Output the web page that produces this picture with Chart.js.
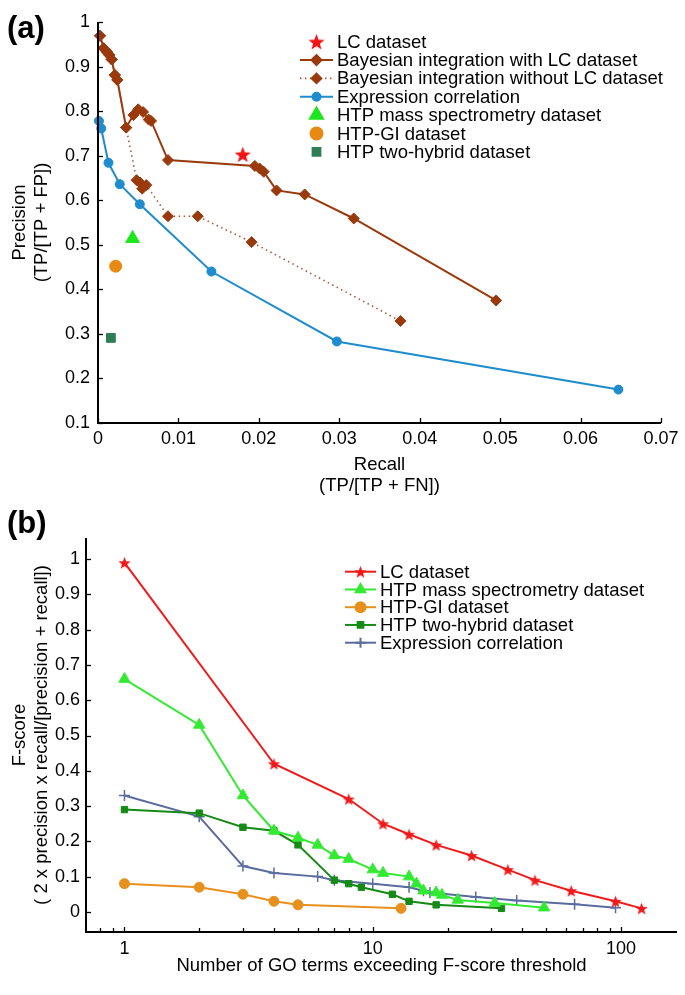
<!DOCTYPE html>
<html><head><meta charset="utf-8">
<script src="https://cdn.jsdelivr.net/npm/chart.js@4/dist/chart.umd.min.js"></script>
<style>
html,body{margin:0;padding:0;background:#fff;}
body{width:685px;height:995px;overflow:hidden;position:relative;font-family:"Liberation Sans",Arial,sans-serif;}
.lbl{position:absolute;font-weight:bold;font-size:31px;left:7px;line-height:1;}
#wa{position:absolute;left:0;top:0;width:685px;height:500px}
#wb{position:absolute;left:0;top:500px;width:685px;height:495px}
</style></head><body>
<div id="wa"><canvas id="ca" width="685" height="500"></canvas></div>
<div id="wb"><canvas id="cb" width="685" height="495"></canvas></div>
<div class="lbl" style="top:12px">(a)</div>
<div class="lbl" style="top:507px">(b)</div>
<script>
// ---------- Panel (a): precision vs recall ----------
const bayesWithRecall    = [0.00025,0.0007,0.0011,0.0014,0.0017,0.0021,0.0024,0.0035,0.0044,0.0050,0.0056,0.0063,0.0066,0.0087,0.0195,0.0201,0.0206,0.0222,0.0257,0.0318,0.0495];
const bayesWithPrecision = [0.969,0.941,0.933,0.926,0.916,0.881,0.870,0.763,0.791,0.804,0.798,0.781,0.778,0.690,0.677,0.671,0.664,0.622,0.613,0.559,0.375];
const bayesWithoutRecall    = [0.00025,0.0007,0.0011,0.0014,0.0017,0.0021,0.0024,0.0035,0.0048,0.0052,0.0055,0.0060,0.0087,0.0124,0.0191,0.0376];
const bayesWithoutPrecision = [0.969,0.941,0.933,0.926,0.916,0.881,0.870,0.763,0.645,0.640,0.626,0.634,0.564,0.564,0.506,0.329];
const exprRecall    = [0.00012,0.0004,0.0013,0.0027,0.0052,0.0141,0.0297,0.0647];
const exprPrecision = [0.778,0.761,0.684,0.636,0.591,0.440,0.283,0.175];
const lcPoint     = [0.0180, 0.703];
const massPoint   = [0.0043, 0.514];
const giPoint     = [0.0022, 0.452];
const y2hPoint    = [0.0016, 0.291];
const recallTicks    = [0,0.01,0.02,0.03,0.04,0.05,0.06,0.07];
const precisionTicks = [0.1,0.2,0.3,0.4,0.5,0.6,0.7,0.8,0.9,1];

// ---------- Panel (b): F-score vs number of GO terms ----------
const lcGo   = [1,4,8,11,14,18,25,35,45,63,95,121];
const lcF    = [0.99,0.42,0.32,0.25,0.22,0.19,0.16,0.12,0.09,0.06,0.03,0.01];
const massGo = [1,2,3,4,5,6,7,8,10,11,14,15,16,18,19,22,31,49];
const massF  = [0.66,0.53,0.33,0.23,0.21,0.19,0.16,0.15,0.12,0.11,0.10,0.08,0.06,0.055,0.048,0.034,0.025,0.012];
const giGo   = [1,2,3,4,5,13];
const giF    = [0.08,0.07,0.05,0.03,0.02,0.01];
const y2hGo  = [1,2,3,4,5,7,8,9,12,14,18,33];
const y2hF   = [0.29,0.28,0.24,0.23,0.19,0.09,0.08,0.07,0.05,0.03,0.02,0.01];
const exprGo = [1,2,3,4,6,7,10,14,16,17,26,38,65,95];
const exprF  = [0.33,0.27,0.13,0.11,0.10,0.09,0.08,0.07,0.06,0.055,0.042,0.032,0.022,0.012];
const fTicks = [0,0.1,0.2,0.3,0.4,0.5,0.6,0.7,0.8,0.9,1];
const goMajorTicks = [1,10,100];
const goMinorTicks = [0.8,0.9,2,3,4,5,6,7,8,9,20,30,40,50,60,70,80,90];

// ---------- helpers ----------
function pts(xs, ys){ return xs.map((x,i)=>({x:x, y:ys[i]})); }
function starCanvas(size, color){
  const c=document.createElement('canvas'); c.width=c.height=size;
  const g=c.getContext('2d'); g.fillStyle=color; g.beginPath();
  const cx=size/2, cy=size/2+size*0.05, R=size/2, r=R*0.42;
  for(let k=0;k<10;k++){ const a=-Math.PI/2+k*Math.PI/5; const rr=(k%2)?r:R; g.lineTo(cx+rr*Math.cos(a), cy+rr*Math.sin(a)); }
  g.closePath(); g.fill(); return c;
}
const FONT = '"Liberation Sans", Arial, sans-serif';

const inwardTicks = {
  id:'inwardTicks',
  afterDraw(chart, args, o){
    const ctx=chart.ctx, a=chart.chartArea, xs=chart.scales.x, ys=chart.scales.y;
    ctx.save(); ctx.strokeStyle='#000'; ctx.lineWidth=1.3;
    xs.ticks.forEach(t=>{
      const px=Math.round(xs.getPixelForValue(t.value))+0.5;
      const len = (o.logMajor && !o.logMajor.includes(t.value)) ? o.minorLen : o.len;
      ctx.beginPath(); ctx.moveTo(px,a.bottom); ctx.lineTo(px,a.bottom-len); ctx.stroke();
    });
    ys.ticks.forEach(t=>{
      const py=Math.round(ys.getPixelForValue(t.value))+0.5;
      ctx.beginPath(); ctx.moveTo(a.left,py); ctx.lineTo(a.left+o.len,py); ctx.stroke();
    });
    ctx.lineWidth=2;
    ctx.beginPath(); ctx.moveTo(a.left, a.top); ctx.lineTo(a.left, a.bottom); ctx.lineTo(a.right, a.bottom); ctx.stroke();
    ctx.restore();
  }
};

const customLegend = {
  id:'customLegend',
  afterDraw(chart, args, o){
    const ctx=chart.ctx; ctx.save();
    chart.data.datasets.forEach((ds,i)=>{
      const y=o.y+i*o.dy, xm=(o.x0+o.x1)/2;
      if(ds.showLine){
        ctx.strokeStyle=ds.borderColor; ctx.lineWidth=ds.borderWidth; ctx.setLineDash(ds.borderDash||[]);
        ctx.beginPath(); ctx.moveTo(o.x0,y); ctx.lineTo(o.x1,y); ctx.stroke(); ctx.setLineDash([]);
      }
      ctx.fillStyle=ds.pointBackgroundColor; ctx.strokeStyle=ds.pointBorderColor;
      Chart.helpers.drawPoint(ctx,{pointStyle:ds.pointStyle, radius:ds.legendRadius, rotation:0, borderWidth:ds.pointBorderWidth||1}, xm, y);
      ctx.fillStyle='#000'; ctx.font=o.font; ctx.textBaseline='middle'; ctx.textAlign='left';
      ctx.fillText(ds.label, o.tx, y+1);
    });
    ctx.restore();
  }
};

// ---------- Chart (a) ----------
const brown='#9a3a0c', blueA='#1e8ccd';
const starA = starCanvas(17,'#f01414');
new Chart(document.getElementById('ca'), {
  type:'scatter',
  data:{ datasets:[
    {label:'LC dataset', data:[{x:lcPoint[0],y:lcPoint[1]}], showLine:false, pointStyle:starA, pointRadius:8, legendRadius:8,
      pointBackgroundColor:'#f01414', pointBorderColor:'#f01414', borderColor:'#f01414'},
    {label:'Bayesian integration with LC dataset', data:pts(bayesWithRecall,bayesWithPrecision), showLine:true, borderColor:brown, borderWidth:2,
      pointStyle:'rectRot', pointRadius:5.5, legendRadius:5, pointBackgroundColor:brown, pointBorderColor:brown},
    {label:'Bayesian integration without LC dataset', data:pts(bayesWithoutRecall,bayesWithoutPrecision), showLine:true, borderColor:'#a8502a', borderWidth:1.6, borderDash:[1.4,3.6],
      pointStyle:'rectRot', pointRadius:5.5, legendRadius:5, pointBackgroundColor:brown, pointBorderColor:brown},
    {label:'Expression correlation', data:pts(exprRecall,exprPrecision), showLine:true, borderColor:blueA, borderWidth:2,
      pointStyle:'circle', pointRadius:4.5, legendRadius:4, pointBackgroundColor:blueA, pointBorderColor:blueA},
    {label:'HTP mass spectrometry dataset', data:[{x:massPoint[0],y:massPoint[1]}], showLine:false, pointStyle:'triangle', pointRadius:8, legendRadius:7.5,
      pointBackgroundColor:'#1ee61e', pointBorderColor:'#1ee61e', borderColor:'#1ee61e'},
    {label:'HTP-GI dataset', data:[{x:giPoint[0],y:giPoint[1]}], showLine:false, pointStyle:'circle', pointRadius:6, legendRadius:6,
      pointBackgroundColor:'#e68a14', pointBorderColor:'#e68a14', borderColor:'#e68a14'},
    {label:'HTP two-hybrid dataset', data:[{x:y2hPoint[0],y:y2hPoint[1]}], showLine:false, pointStyle:'rect', pointRadius:6.2, legendRadius:5.5,
      pointBackgroundColor:'#2e7d55', pointBorderColor:'#2e7d55', borderColor:'#2e7d55'}
  ].map(d=>Object.assign({clip:false, pointBorderWidth:1, tension:0}, d))},
  options:{
    responsive:false, animation:false, events:[],
    layout:{padding:{left:0, top:22, right:24, bottom:0}},
    plugins:{legend:{display:false}, tooltip:{enabled:false},
      inwardTicks:{len:5},
      customLegend:{x0:300, x1:333, tx:337, y:41.7, dy:18.35, font:'18.5px '+FONT}},
    scales:{
      x:{type:'linear', min:0, max:0.07,
        afterBuildTicks:s=>{ s.ticks=recallTicks.map(v=>({value:v})); },
        afterFit:s=>{ s.height=77; },
        grid:{display:false, drawTicks:false}, border:{display:false},
        ticks:{color:'#000', font:{family:FONT,size:18}, padding:5, autoSkip:false, maxRotation:0, callback:v=>String(v)},
        title:{display:true, text:['Recall','(TP/[TP + FN])'], color:'#000', font:{family:FONT,size:18.5,lineHeight:1.17}, padding:{top:0,bottom:3}}},
      y:{type:'linear', min:0.1, max:1,
        afterBuildTicks:s=>{ s.ticks=precisionTicks.map(v=>({value:v})); },
        afterFit:s=>{ s.width=98; },
        grid:{display:false, drawTicks:false}, border:{display:false},
        ticks:{color:'#000', font:{family:FONT,size:18}, padding:8, autoSkip:false, callback:v=>String(v)},
        title:{display:true, text:['Precision','(TP/[TP + FP])'], color:'#000', font:{family:FONT,size:18.5,lineHeight:1.17}, padding:{top:9,bottom:0}}}
    }
  },
  plugins:[inwardTicks, customLegend]
});

// ---------- Chart (b) ----------
const redB='#f01a1a', greenB='#33ea33', orangeB='#e8901e', dgreenB='#168a16', slateB='#5a6c9e';
const starB = starCanvas(13, redB);
new Chart(document.getElementById('cb'), {
  type:'scatter',
  data:{ datasets:[
    {label:'LC dataset', data:pts(lcGo,lcF), borderColor:redB, pointStyle:starB, pointRadius:6.5, legendRadius:6.5, pointBackgroundColor:redB, pointBorderColor:redB},
    {label:'HTP mass spectrometry dataset', data:pts(massGo,massF), borderColor:greenB, pointStyle:'triangle', pointRadius:6.5, legendRadius:5.5, pointBackgroundColor:greenB, pointBorderColor:greenB},
    {label:'HTP-GI dataset', data:pts(giGo,giF), borderColor:orangeB, pointStyle:'circle', pointRadius:5, legendRadius:5, pointBackgroundColor:orangeB, pointBorderColor:orangeB},
    {label:'HTP two-hybrid dataset', data:pts(y2hGo,y2hF), borderColor:dgreenB, pointStyle:'rect', pointRadius:4.5, legendRadius:4, pointBackgroundColor:dgreenB, pointBorderColor:dgreenB},
    {label:'Expression correlation', data:pts(exprGo,exprF), borderColor:slateB, pointStyle:'cross', pointRadius:5.5, legendRadius:5, pointBackgroundColor:slateB, pointBorderColor:slateB, pointBorderWidth:1.5}
  ].map(d=>Object.assign({clip:false, showLine:true, borderWidth:2, pointBorderWidth:1, tension:0}, d))},
  options:{
    responsive:false, animation:false, events:[],
    layout:{padding:{left:0, top:38, right:8, bottom:0}},
    plugins:{legend:{display:false}, tooltip:{enabled:false},
      inwardTicks:{len:5, minorLen:4, logMajor:goMajorTicks},
      customLegend:{x0:345, x1:376, tx:380, y:71.7, dy:17.75, font:'18.5px '+FONT}},
    scales:{
      x:{type:'logarithmic', min:0.742, max:168,
        afterBuildTicks:s=>{ s.ticks=goMinorTicks.concat(goMajorTicks).sort((a,b)=>a-b).map(v=>({value:v})); },
        afterFit:s=>{ s.height=63; },
        grid:{display:false, drawTicks:false}, border:{display:false},
        ticks:{color:'#000', font:{family:FONT,size:18}, padding:6, autoSkip:false, maxRotation:0,
          callback:v=>goMajorTicks.includes(v)?String(v):''},
        title:{display:true, text:'Number of GO terms exceeding F-score threshold', color:'#000', font:{family:FONT,size:18.5,lineHeight:1.17}, padding:{top:0,bottom:18}}},
      y:{type:'linear', min:-0.057, max:1.06,
        afterBuildTicks:s=>{ s.ticks=fTicks.map(v=>({value:v})); },
        afterFit:s=>{ s.width=86; },
        grid:{display:false, drawTicks:false}, border:{display:false},
        ticks:{color:'#000', font:{family:FONT,size:18}, padding:6, autoSkip:false, callback:v=>String(v)},
        title:{display:true, text:['F-score','( 2 x precision x recall/[precision + recall])'], color:'#000', font:{family:FONT,size:18.5,lineHeight:1.17}, padding:{top:9,bottom:0}}}
    }
  },
  plugins:[inwardTicks, customLegend]
});
</script>
</body></html>
